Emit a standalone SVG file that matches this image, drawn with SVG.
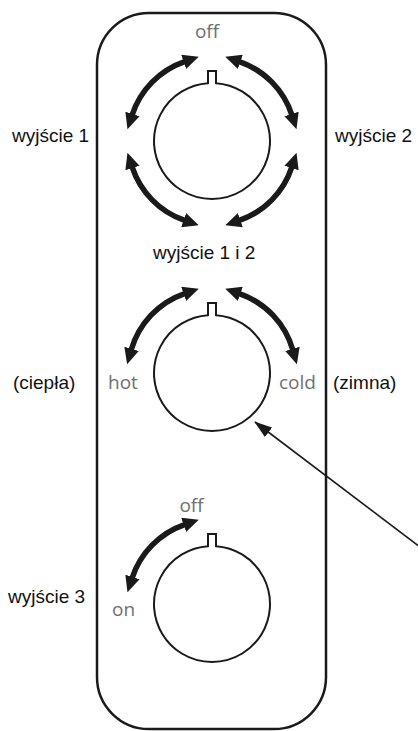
<svg xmlns="http://www.w3.org/2000/svg" width="418" height="731" viewBox="0 0 418 731">
<defs>
<style>
.panel{fill:none;stroke:#1a1a1a;stroke-width:2.5}
.knob{fill:#fff;stroke:#1a1a1a;stroke-width:2}
.arc{fill:none;stroke:#1a1a1a;stroke-width:5.5;marker-start:url(#ah);marker-end:url(#ah)}
.arc1{fill:none;stroke:#1a1a1a;stroke-width:5.5;marker-start:url(#ah);marker-end:url(#ah)}
.ptr{fill:none;stroke:#1a1a1a;stroke-width:1.6;marker-end:url(#pa)}
.lbl{font-family:"Liberation Sans",Arial,sans-serif;font-size:19px;fill:#111}
.pos{font-family:"Open Sans","Noto Sans",sans-serif;font-size:19px;fill:#707070}
</style>
<marker id="ah" markerUnits="userSpaceOnUse" markerWidth="16" markerHeight="15" refX="1" refY="7" orient="auto-start-reverse" viewBox="0 0 15 14">
<path d="M0,0 L15,7 L0,14 Z" fill="#1a1a1a"/>
</marker>
<marker id="pa" markerUnits="userSpaceOnUse" markerWidth="18" markerHeight="12" refX="17" refY="6" orient="auto" viewBox="0 0 18 12">
<path d="M0,0 L18,6 L0,12 Z" fill="#1a1a1a"/>
</marker>
</defs>

<g id="panel">
<rect class="panel" x="97" y="13" width="229" height="716" rx="52" ry="52"/>
</g>

<g id="knob-top">
<path class="knob" d="M216,83.14 L216,71 L208,71 L208,83.14 A58 58 0 1 0 216,83.14 Z"/>
<text class="pos" x="207" y="38" text-anchor="middle">off</text>
<text class="lbl" x="12" y="142">wyjście 1</text>
<text class="lbl" x="335" y="142">wyjście 2</text>
<text class="lbl" x="153" y="259">wyjście 1 i 2</text>
</g>

<g id="knob-middle">
<path class="knob" d="M216,315.14 L216,303 L208,303 L208,315.14 A58 58 0 1 0 216,315.14 Z"/>
<text class="pos" x="108" y="389">hot</text>
<text class="pos" x="279" y="389">cold</text>
<text class="lbl" x="13" y="389">(ciepła)</text>
<text class="lbl" x="333" y="389">(zimna)</text>
</g>

<g id="knob-bottom">
<path class="knob" d="M216,546.14 L216,534 L208,534 L208,546.14 A58 58 0 1 0 216,546.14 Z"/>
<text class="pos" x="191.5" y="512" text-anchor="middle">off</text>
<text class="pos" x="112" y="616">on</text>
<text class="lbl" x="8" y="603">wyjście 3</text>
</g>

<g id="connectors">
<path class="arc" d="M132.11,115.04 A84 84 0 0 1 184.65,61.58"/>
<path class="arc" d="M239.35,61.58 A84 84 0 0 1 291.89,115.04"/>
<path class="arc" d="M291.89,166.96 A84 84 0 0 1 239.35,220.42"/>
<path class="arc" d="M184.65,220.42 A84 84 0 0 1 132.11,166.96"/>
<path class="arc" d="M131.25,349.85 A84 84 0 0 1 184.65,293.58"/>
<path class="arc" d="M239.35,293.58 A84 84 0 0 1 292.75,349.85"/>
<path class="arc" d="M132.11,578.04 A84 84 0 0 1 184.65,524.58"/>
<path class="ptr" d="M420,547 L255,422"/>
</g>
</svg>
